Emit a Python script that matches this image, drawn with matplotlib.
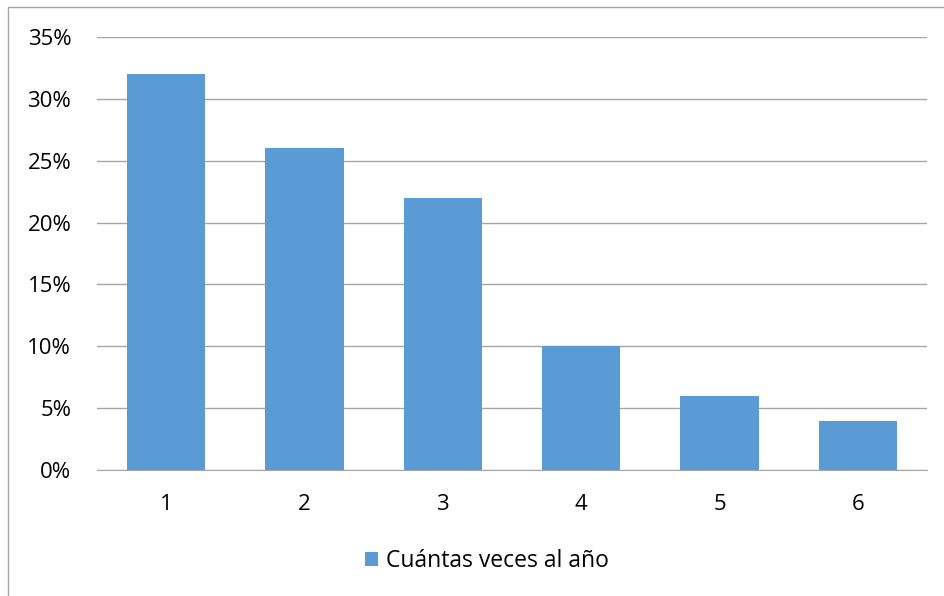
import matplotlib.pyplot as plt
from matplotlib.patches import Rectangle
from matplotlib.ticker import PercentFormatter

# frecuencia anual
categorias = ['1', '2', '3', '4', '5', '6']
porcentajes = [32, 26, 22, 10, 6, 4]
serie = 'Cuántas veces al año'

AZUL = '#5b9bd5'
GRIS = '#a6a6a6'

plt.rcParams['font.family'] = ['Open Sans', 'DejaVu Sans']

fig = plt.figure(figsize=(9.44, 5.96), dpi=100)
# (left, bottom, width, height) en fracciones de la figura
ax = fig.add_axes([97 / 944, 1 - 470 / 596, 830 / 944, 433 / 596])

x = range(len(categorias))
ax.bar(x, porcentajes, width=0.565, color=AZUL, zorder=3, label=serie)

ax.set_xlim(-0.5, len(categorias) - 0.5)
ax.set_ylim(0, 35)
ax.set_yticks(range(0, 36, 5))
ax.yaxis.set_major_formatter(PercentFormatter(decimals=0))
ax.set_xticks(list(x))
ax.set_xticklabels(categorias)
ax.grid(axis='y', color=GRIS, linewidth=1, zorder=0)
ax.tick_params(length=0, labelsize=16, colors='#000000')
ax.tick_params(axis='y', pad=18.5)
ax.tick_params(axis='x', pad=17)
for lado in ['top', 'right', 'left']:
    ax.spines[lado].set_visible(False)
ax.spines['bottom'].set_color(GRIS)

leg = fig.legend(loc='center', bbox_to_anchor=(487 / 944, 1 - 561 / 596),
                 frameon=False, fontsize=16.5, handlelength=0.6, handleheight=0.6,
                 handletextpad=0.35)

# borde del área del gráfico
fig.patches.append(Rectangle((8 / 944, -0.1), 1.1, 1 - 7 / 596 + 0.1,
                             transform=fig.transFigure, fill=False,
                             edgecolor=GRIS, linewidth=1))

fig.savefig('out.png', dpi=100)
